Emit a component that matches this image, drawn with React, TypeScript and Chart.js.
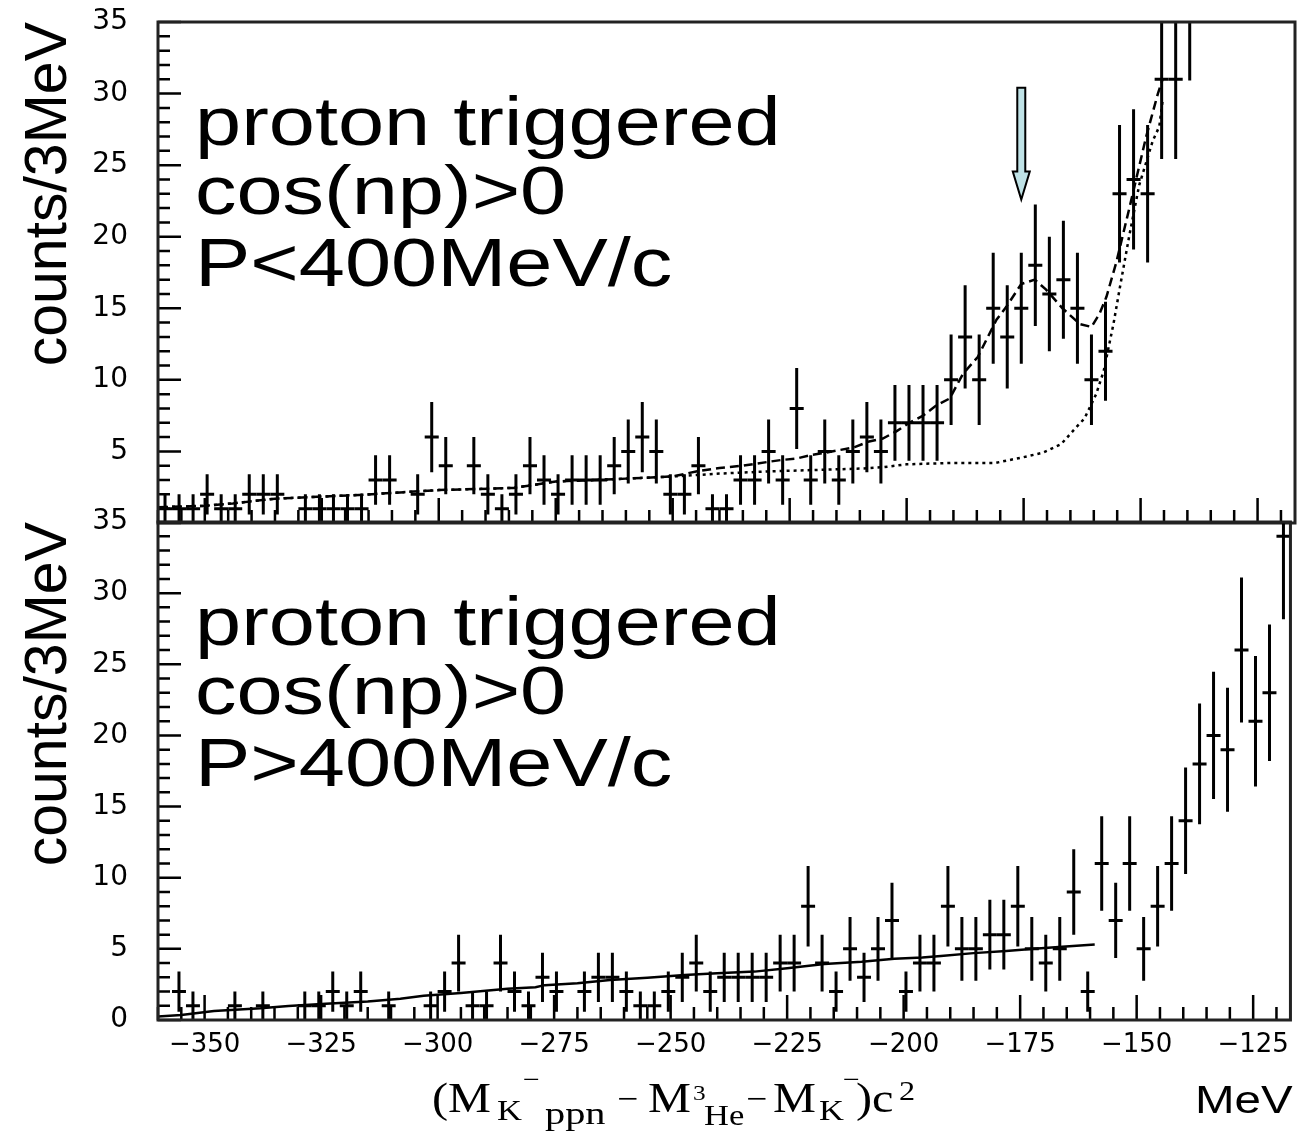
import React, { useEffect, useRef } from 'react';
import { Chart, registerables } from 'chart.js';

Chart.register(...registerables);

// ---------- axis ranges ----------
const X_MIN = -360;
const X_MAX = -117;
const BIN_WIDTH = 3;
const Y_MIN = 0;
const Y_MAX = 35;
const X_MAJOR = 25;
const X_MINOR = 5;
const Y_MAJOR = 5;
const Y_MINOR = 1;
const xTickLabels = [-350, -325, -300, -275, -250, -225, -200, -175, -150, -125];

// ---------- data: counts per 3 MeV bin, starting at -360 MeV ----------
const topCounts = [
  1, 1, 1, 2, 1, 1, 2, 2, 2, 0,
  1, 1, 1, 1, 1, 3, 3, 0, 2, 6,
  4, 0, 4, 2, 1, 2, 4, 3, 2, 3,
  3, 3, 4, 5, 6, 5, 2, 2, 4, 1,
  1, 3, 3, 5, 3, 8, 3, 5, 3, 5,
  6, 5, 7, 7, 7, 7, 10, 13, 10, 15,
  13, 15, 18, 16, 17, 15, 10, 12, 23, 24,
  23, 31, 31, 37,
];

const bottomCounts = [
  0, 2, 1, 0, 0, 1, 0, 1, 0, 0,
  1, 1, 2, 1, 2, 0, 1, 0, 0, 1,
  2, 4, 1, 1, 4, 2, 1, 3, 2, 0,
  2, 3, 3, 2, 1, 1, 2, 3, 4, 2,
  3, 3, 3, 3, 4, 4, 8, 4, 2, 5,
  3, 5, 7, 2, 4, 4, 8, 5, 5, 6,
  6, 8, 5, 4, 5, 9, 2, 11, 7, 11,
  5, 8, 11, 14, 18, 20, 19, 26, 21, 23,
  34,
];

// ---------- fit curves ----------
const topTotalFitX = [
  -360, -350, -344, -335, -326, -317, -300, -284, -275, -267, -260, -250,
  -245, -240, -235, -229, -226.8, -223.6, -220.4, -217.5, -214.3, -211.1, -208, -205.1,
  -202.2, -199.4, -196.5, -193.7, -190.8, -188, -184.8, -180.8, -178.7, -175.5,
  -172.6, -170.2, -166.7, -163, -160.5, -158.8, -157.3, -155.2, -152.4, -148.8, -146.3, -145.3,
];
const topTotalFitY = [
  1.1, 1.2, 1.37, 1.7, 1.83, 1.96, 2.3, 2.45, 2.9, 3.0, 3.1, 3.25,
  3.6, 3.85, 4.0, 4.3, 4.4, 4.5, 4.75, 4.9, 5.1, 5.3, 5.7, 5.9,
  6.4, 7.0, 7.5, 8.2, 8.7, 10.4, 11.6, 14.2, 15.1, 16.7,
  17.0, 16.3, 15.0, 13.9, 13.7, 14.6, 15.8, 18.2, 22.0, 27.0, 30.0, 31.0,
];

const topBackgroundX = [
  -360, -350, -344, -335, -326, -317, -300, -284, -275, -267, -260, -250,
  -245, -240, -230, -220, -210, -205, -200, -190, -181, -175, -171, -167,
  -164, -162, -159.5, -157.9, -155.8, -154.4, -152.4, -150.3, -147.4, -146, -145.3,
];
const topBackgroundY = [
  1.1, 1.2, 1.37, 1.7, 1.83, 1.96, 2.3, 2.45, 2.9, 3.0, 3.1, 3.25,
  3.35, 3.45, 3.6, 3.7, 3.8, 3.9, 4.1, 4.2, 4.2, 4.6, 4.9, 5.5,
  6.6, 7.3, 9.0, 10.6, 13.9, 16.5, 20.1, 23.6, 26.7, 27.7, 29.5,
];

const bottomFitX = [
  -360, -355, -348, -338, -332, -324, -315, -308, -303, -295, -285, -279,
  -277, -270, -263, -255, -247, -240, -232, -225, -217, -209, -202, -196,
  -192, -185, -178, -172, -166, -159,
];
const bottomFitY = [
  0.25, 0.35, 0.63, 0.82, 0.98, 1.15, 1.3, 1.5, 1.7, 1.9, 2.2, 2.3,
  2.45, 2.58, 2.81, 2.97, 3.16, 3.28, 3.4, 3.63, 3.94, 4.1, 4.3, 4.4,
  4.5, 4.7, 4.85, 5.0, 5.15, 5.3,
];

// ---------- annotations ----------
const topLabelLines = ['proton triggered', 'cos(np)>0', 'P<400MeV/c'];
const bottomLabelLines = ['proton triggered', 'cos(np)>0', 'P>400MeV/c'];
const yTitle = 'counts/3MeV';
const arrowX = -175.5;
const arrowTopY = 30.4;
const arrowTipY = 22.6;

type Pt = { x: number; y: number };

function binPoints(counts: number[]): Pt[] {
  return counts
    .map((c, i) => ({ x: X_MIN + BIN_WIDTH * (i + 0.5), y: c }))
    .filter((p) => p.y > 0);
}
function zip(xs: number[], ys: number[]): Pt[] {
  return xs.map((x, i) => ({ x, y: ys[i] }));
}

const SANS = '"Liberation Sans", Arial, sans-serif';
const SERIF = '"Liberation Serif", "Times New Roman", serif';
const TICK_FONT = '"DejaVu Sans", sans-serif';

// page geometry of the two frames
const FRAME_LEFT = 158;
const FRAME_RIGHT = 1295;
const TOP_FRAME_TOP = 22;
const TOP_FRAME_BOTTOM = 523;
const BOT_FRAME_TOP = 522;
const BOT_FRAME_BOTTOM = 1020;

function drawStretched(ctx: CanvasRenderingContext2D, text: string, x: number, y: number, size: number, family: string, sx: number) {
  ctx.save();
  ctx.translate(x, y);
  ctx.scale(sx, 1);
  ctx.font = `${size}px ${family}`;
  ctx.textBaseline = 'alphabetic';
  ctx.textAlign = 'left';
  ctx.fillStyle = '#000';
  ctx.fillText(text, 0, 0);
  ctx.restore();
}

type PanelCfg = {
  labels: string[];
  arrow: boolean;
  xTitle: boolean;
};

function makePanelPlugin(cfg: PanelCfg) {
  return {
    id: 'panel',
    afterDatasetsDraw(chart: any) {
      const { ctx, chartArea: a } = chart;
      const xs = chart.scales.x;
      const ys = chart.scales.y;
      const meta = chart.getDatasetMeta(0);
      const pts: Pt[] = chart.data.datasets[0].data;
      ctx.save();
      ctx.beginPath();
      ctx.rect(a.left, a.top, a.right - a.left, a.bottom - a.top);
      ctx.clip();
      ctx.strokeStyle = '#000';
      ctx.lineWidth = 3;
      ctx.lineCap = 'butt';
      meta.data.forEach((el: any, i: number) => {
        const p = pts[i];
        const e = Math.sqrt(p.y);
        const xl = xs.getPixelForValue(p.x - BIN_WIDTH / 2);
        const xr = xs.getPixelForValue(p.x + BIN_WIDTH / 2);
        const yt = ys.getPixelForValue(p.y + e);
        const yb = ys.getPixelForValue(p.y - e);
        ctx.beginPath();
        ctx.moveTo(xl, el.y);
        ctx.lineTo(xr, el.y);
        ctx.moveTo(el.x, yt);
        ctx.lineTo(el.x, yb);
        ctx.stroke();
      });
      ctx.restore();
    },
    afterDraw(chart: any) {
      const { ctx, chartArea: a } = chart;
      const xs = chart.scales.x;
      const ys = chart.scales.y;
      ctx.save();
      // inward ticks
      ctx.strokeStyle = '#000';
      ctx.lineWidth = 2.5;
      ctx.beginPath();
      for (let v = Y_MIN; v <= Y_MAX; v += Y_MINOR) {
        const y = ys.getPixelForValue(v);
        const len = v % Y_MAJOR === 0 ? 23 : 12;
        ctx.moveTo(a.left, y);
        ctx.lineTo(a.left + len, y);
      }
      for (let v = Math.ceil(X_MIN / X_MINOR) * X_MINOR; v <= X_MAX; v += X_MINOR) {
        const x = xs.getPixelForValue(v);
        const len = v % X_MAJOR === 0 ? 25 : 13;
        ctx.moveTo(x, a.bottom);
        ctx.lineTo(x, a.bottom - len);
      }
      ctx.stroke();
      // frame
      ctx.strokeStyle = '#222';
      ctx.lineWidth = 3;
      ctx.strokeRect(a.left, a.top, a.right - a.left, a.bottom - a.top);

      // big labels
      const baselines = [123, 192, 264];
      cfg.labels.forEach((t, i) => {
        drawStretched(ctx, t, a.left + 37, a.top + baselines[i], 68, SANS, 1.22);
      });

      // arrow
      if (cfg.arrow) {
        const x = xs.getPixelForValue(arrowX);
        const yTop = ys.getPixelForValue(arrowTopY);
        const yTip = ys.getPixelForValue(arrowTipY);
        const headLen = 28;
        const sw = 4;
        const hw = 8.5;
        ctx.beginPath();
        ctx.moveTo(x - sw, yTop);
        ctx.lineTo(x + sw, yTop);
        ctx.lineTo(x + sw, yTip - headLen);
        ctx.lineTo(x + hw, yTip - headLen);
        ctx.lineTo(x, yTip);
        ctx.lineTo(x - hw, yTip - headLen);
        ctx.lineTo(x - sw, yTip - headLen);
        ctx.closePath();
        ctx.fillStyle = '#bfe2e6';
        ctx.fill();
        ctx.strokeStyle = '#000';
        ctx.lineWidth = 2;
        ctx.stroke();
      }

      // x-axis title
      if (cfg.xTitle) {
        const b = a.bottom;
        const segs: [string, number, number, number, number][] = [
          ['(M', 432, 92, 42, 1.15],
          ['K', 497, 100, 30, 1.15],
          ['\u2212', 523, 68, 26, 1.15],
          ['ppn', 545, 104, 31, 1.3],
          ['\u2212', 617, 90, 34, 1.1],
          ['M', 648, 92, 42, 1.15],
          ['3', 693, 80, 22, 1.15],
          ['He', 704, 105, 30, 1.15],
          ['\u2212', 746, 90, 34, 1.1],
          ['M', 773, 92, 42, 1.15],
          ['K', 819, 100, 30, 1.15],
          ['\u2212', 843, 68, 26, 1.15],
          [')c', 856, 92, 42, 1.15],
          ['2', 899, 80, 28, 1.15],
        ];
        segs.forEach(([t, x, dy, s, sx]) => drawStretched(ctx, t, x, b + dy, s, SERIF, sx));
        drawStretched(ctx, 'MeV', 1195, b + 93, 38, SANS, 1.25);
      }
      ctx.restore();
    },
  };
}

function makeConfig(isBottom: boolean, canvasTop: number, canvasHeight: number): any {
  const counts = isBottom ? bottomCounts : topCounts;
  const frameTop = isBottom ? BOT_FRAME_TOP : TOP_FRAME_TOP;
  const frameBottom = isBottom ? BOT_FRAME_BOTTOM : TOP_FRAME_BOTTOM;
  const xAxisH = isBottom ? 100 : 0;
  const datasets: any[] = [
    {
      label: 'data',
      data: binPoints(counts),
      pointRadius: 0,
      pointHitRadius: 0,
      showLine: false,
    },
  ];
  if (isBottom) {
    datasets.push({
      label: 'fit',
      data: zip(bottomFitX, bottomFitY),
      showLine: true,
      pointRadius: 0,
      borderColor: '#000',
      borderWidth: 2.5,
      tension: 0,
      fill: false,
    });
  } else {
    datasets.push({
      label: 'total fit',
      data: zip(topTotalFitX, topTotalFitY),
      showLine: true,
      pointRadius: 0,
      borderColor: '#000',
      borderWidth: 2.5,
      borderDash: [9, 5],
      tension: 0,
      fill: false,
    });
    datasets.push({
      label: 'background',
      data: zip(topBackgroundX, topBackgroundY),
      showLine: true,
      pointRadius: 0,
      borderColor: '#000',
      borderWidth: 2.5,
      borderDash: [3, 4],
      tension: 0,
      fill: false,
    });
  }
  const xScale: any = {
    type: 'linear',
    min: X_MIN,
    max: X_MAX,
    display: isBottom,
    grid: { display: false, drawTicks: false },
    border: { display: false },
    ticks: {
      autoSkip: false,
      maxRotation: 0,
      color: '#000',
      padding: 10,
      font: { family: TICK_FONT, size: 26 },
      callback: (v: number) => (v < 0 ? '\u2212' + Math.abs(v) : String(v)),
    },
    afterBuildTicks: (s: any) => {
      s.ticks = xTickLabels.map((v) => ({ value: v }));
    },
  };
  if (isBottom) {
    xScale.afterFit = (s: any) => {
      s.height = xAxisH;
    };
  }
  return {
    type: 'scatter',
    data: { datasets },
    plugins: [
      makePanelPlugin({
        labels: isBottom ? bottomLabelLines : topLabelLines,
        arrow: !isBottom,
        xTitle: isBottom,
      }),
    ],
    options: {
      animation: false,
      responsive: false,
      maintainAspectRatio: false,
      events: [],
      layout: {
        padding: {
          left: 0,
          right: 1299 - FRAME_RIGHT,
          top: frameTop - canvasTop,
          bottom: canvasHeight - (frameBottom - canvasTop) - xAxisH,
        },
      },
      plugins: {
        legend: { display: false },
        tooltip: { enabled: false },
      },
      scales: {
        x: xScale,
        y: {
          type: 'linear',
          min: Y_MIN,
          max: Y_MAX,
          grid: { display: false, drawTicks: false },
          border: { display: false },
          ticks: {
            stepSize: Y_MAJOR,
            color: '#000',
            padding: 30,
            font: { family: TICK_FONT, size: 28 },
            callback: (v: number) => (!isBottom && v === 0 ? '' : String(v)),
          },
          title: {
            display: true,
            text: yTitle,
            color: '#000',
            align: 'end',
            font: { family: SANS, size: 59 },
            padding: { top: 14, bottom: 0 },
          },
          afterFit: (s: any) => {
            s.width = FRAME_LEFT;
          },
        },
      },
    },
  };
}

function Panel({ isBottom, top, height }: { isBottom: boolean; top: number; height: number }) {
  const ref = useRef<HTMLCanvasElement | null>(null);
  useEffect(() => {
    if (!ref.current) return;
    const chart: any = new Chart(ref.current, makeConfig(isBottom, top, height));
    const frameTop = isBottom ? BOT_FRAME_TOP : TOP_FRAME_TOP;
    const frameBottom = isBottom ? BOT_FRAME_BOTTOM : TOP_FRAME_BOTTOM;
    // nudge layout padding so that the chart area lands exactly on the frame
    for (let k = 0; k < 4; k++) {
      const a = chart.chartArea;
      const pad = chart.options.layout.padding;
      const dTop = frameTop - (top + a.top);
      const dBottom = top + a.bottom - frameBottom;
      const dLeft = FRAME_LEFT - a.left;
      if (Math.abs(dTop) < 0.5 && Math.abs(dBottom) < 0.5 && Math.abs(dLeft) < 0.5) break;
      chart.options.layout.padding = {
        left: Math.max(0, pad.left + dLeft),
        right: pad.right,
        top: pad.top + dTop,
        bottom: Math.max(0, pad.bottom + dBottom),
      };
      chart.update();
    }
    return () => chart.destroy();
  }, [isBottom, top, height]);
  return (
    <canvas
      ref={ref}
      width={1299}
      height={height}
      style={{ position: 'absolute', left: 0, top, width: 1299, height }}
    />
  );
}

export default function App() {
  return (
    <div style={{ position: 'absolute', left: 0, top: 0, width: 1299, height: 1133, background: '#fff', overflow: 'hidden' }}>
      <Panel isBottom={false} top={-60} height={700} />
      <Panel isBottom={true} top={440} height={693} />
    </div>
  );
}
